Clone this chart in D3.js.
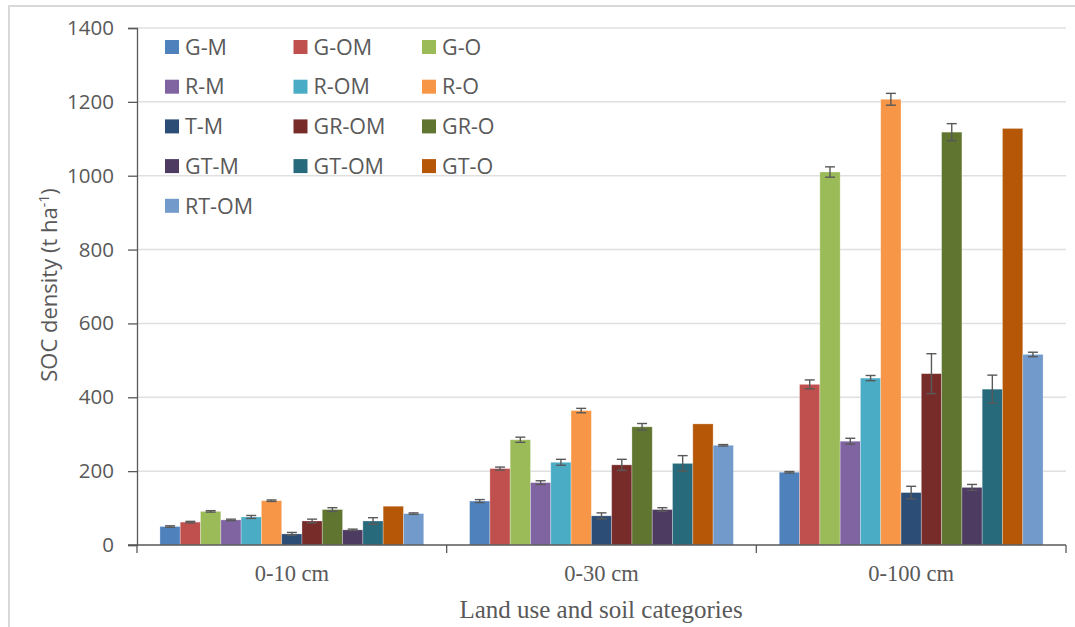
<!DOCTYPE html>
<html>
<head>
<meta charset="utf-8">
<script src="https://cdn.jsdelivr.net/npm/d3@7"></script>
<style>
  body { margin: 0; background: #fff; }
  svg { display: block; }
</style>
</head>
<body>
<div id="chart"></div>
<script>
// depth classes on the x axis
const depths = ["0-10 cm", "0-30 cm", "0-100 cm"];

// land use / soil series
const series = ["G-M", "G-OM", "G-O", "R-M", "R-OM", "R-O", "T-M", "GR-OM", "GR-O", "GT-M", "GT-OM", "GT-O", "RT-OM"];
const colors = ["#4F81BD", "#C0504D", "#9BBB59", "#8064A2", "#4BACC6", "#F79646", "#2C4D75", "#772C2A", "#5F7530", "#4D3B62", "#276A7C", "#B65708", "#729ACA"];

// SOC density (t ha-1), one value per series, per depth
const soc0to10  = [50, 62, 91, 68, 76, 120, 30, 65, 96, 41, 65, 105, 85];
const soc0to30  = [119, 207, 285, 169, 224, 364, 79, 217, 320, 96, 221, 328, 270];
const soc0to100 = [197, 435, 1010, 281, 452, 1207, 142, 464, 1118, 156, 422, 1128, 516];

// error bar half-widths
const err0to10  = [2, 2, 2, 2, 4, 2, 4, 5, 5, 2, 9, 0, 2];
const err0to30  = [4, 4, 7, 5, 8, 6, 8, 15, 9, 5, 21, 0, 2];
const err0to100 = [2, 12, 14, 8, 7, 16, 17, 54, 23, 8, 38, 0, 6];

const yTicks = [0, 200, 400, 600, 800, 1000, 1200, 1400];

const values = [soc0to10, soc0to30, soc0to100];
const errors = [err0to10, err0to30, err0to100];

const rows = [];
depths.forEach((d, i) => {
  series.forEach((s, j) => {
    rows.push({depth: d, name: s, value: values[i][j], err: errors[i][j], color: colors[j]});
  });
});

const width = 1075, height = 627;
const margin = {top: 28, right: 9, bottom: 82, left: 137};
const w = width - margin.left - margin.right;
const h = height - margin.top - margin.bottom;

const svg = d3.select("#chart")
  .append("svg")
    .attr("width", width)
    .attr("height", height);

// outer chart border
svg.append("rect")
  .attr("x", 9).attr("y", 6)
  .attr("width", width + 10).attr("height", height + 10)
  .attr("fill", "none")
  .attr("stroke", "#d9d9d9")
  .attr("stroke-width", 2);

const g = svg.append("g")
  .attr("transform", `translate(${margin.left},${margin.top})`);

const x0 = d3.scaleBand().domain(depths).range([0, w]).padding(0);
const x1 = d3.scaleBand().domain(series).range([0, x0.bandwidth()])
  .paddingInner(0).paddingOuter(1.13);
const y = d3.scaleLinear().domain([0, 1400]).range([h, 0]);

// gridlines
g.selectAll(".grid")
  .data(yTicks.filter(t => t > 0))
  .enter().append("line")
    .attr("x1", 0).attr("x2", w)
    .attr("y1", d => y(d)).attr("y2", d => y(d))
    .attr("stroke", "#e0e0e0")
    .attr("stroke-width", 1.5);

// y axis
const yAxis = g.append("g")
  .call(d3.axisLeft(y).tickValues(yTicks).tickSize(9).tickPadding(14).tickFormat(d3.format("d")));
yAxis.select(".domain").attr("stroke", "#595959").attr("stroke-width", 1.3);
yAxis.selectAll(".tick line").attr("stroke", "#595959").attr("stroke-width", 1.3);
yAxis.selectAll("text")
  .attr("fill", "#595959")
  .style("font-family", "'Open Sans', sans-serif")
  .style("font-size", "20.5px");

// bars
g.selectAll(".bar")
  .data(rows)
  .enter().append("rect")
    .attr("x", d => x0(d.depth) + x1(d.name))
    .attr("y", d => y(d.value))
    .attr("width", x1.bandwidth())
    .attr("height", d => h - y(d.value))
    .attr("fill", d => d.color)
    .attr("stroke", "#ffffff")
    .attr("stroke-opacity", 0.35)
    .attr("stroke-width", 0.8);

// error bars
const eb = g.selectAll(".err")
  .data(rows.filter(d => d.err > 0))
  .enter().append("g")
    .attr("stroke", "#595959")
    .attr("stroke-width", 1.4);
eb.append("line")
  .attr("x1", d => x0(d.depth) + x1(d.name) + x1.bandwidth() / 2)
  .attr("x2", d => x0(d.depth) + x1(d.name) + x1.bandwidth() / 2)
  .attr("y1", d => y(d.value + d.err))
  .attr("y2", d => y(d.value - d.err));
[1, -1].forEach(s => {
  eb.append("line")
    .attr("x1", d => x0(d.depth) + x1(d.name) + x1.bandwidth() / 2 - 5)
    .attr("x2", d => x0(d.depth) + x1(d.name) + x1.bandwidth() / 2 + 5)
    .attr("y1", d => y(d.value + s * d.err))
    .attr("y2", d => y(d.value + s * d.err));
});

// x axis
const xAxis = g.append("g")
  .attr("transform", `translate(0,${h})`)
  .call(d3.axisBottom(x0).tickSize(0).tickPadding(20));
xAxis.select(".domain").remove();
g.append("line")
  .attr("x1", -9).attr("x2", w)
  .attr("y1", h).attr("y2", h)
  .attr("stroke", "#595959").attr("stroke-width", 1.3);
g.selectAll(".sep")
  .data([0, 1, 2, 3])
  .enter().append("line")
    .attr("x1", i => i * x0.step()).attr("x2", i => i * x0.step())
    .attr("y1", h).attr("y2", h + 8)
    .attr("stroke", "#595959").attr("stroke-width", 1.3);
xAxis.selectAll("text")
  .attr("fill", "#595959")
  .style("font-family", "'Liberation Serif', 'Times New Roman', serif")
  .style("font-size", "22.5px");

// axis titles
svg.append("text")
  .attr("transform", "translate(57,285) rotate(-90)")
  .attr("text-anchor", "middle")
  .attr("fill", "#595959")
  .style("font-family", "'Open Sans', sans-serif")
  .style("font-size", "22px")
  .html('SOC density (t ha<tspan dy="-8" font-size="14px">-1</tspan><tspan dy="8">)</tspan>');

svg.append("text")
  .attr("x", 601).attr("y", 618)
  .attr("text-anchor", "middle")
  .attr("fill", "#595959")
  .style("font-family", "'Liberation Serif', 'Times New Roman', serif")
  .style("font-size", "25px")
  .text("Land use and soil categories");

// legend, three columns
const legend = svg.append("g");
const item = legend.selectAll(".item")
  .data(series)
  .enter().append("g")
    .attr("transform", (d, i) => `translate(${165 + (i % 3) * 128.5},${47 + Math.floor(i / 3) * 39.7})`);
item.append("rect")
  .attr("x", 0).attr("y", -7)
  .attr("width", 14).attr("height", 14)
  .attr("fill", (d, i) => colors[i]);
item.append("text")
  .attr("x", 20).attr("y", 0)
  .attr("dy", "0.36em")
  .attr("fill", "#595959")
  .style("font-family", "'Open Sans', sans-serif")
  .style("font-size", "21.5px")
  .text(d => d);
</script>
</body>
</html>
